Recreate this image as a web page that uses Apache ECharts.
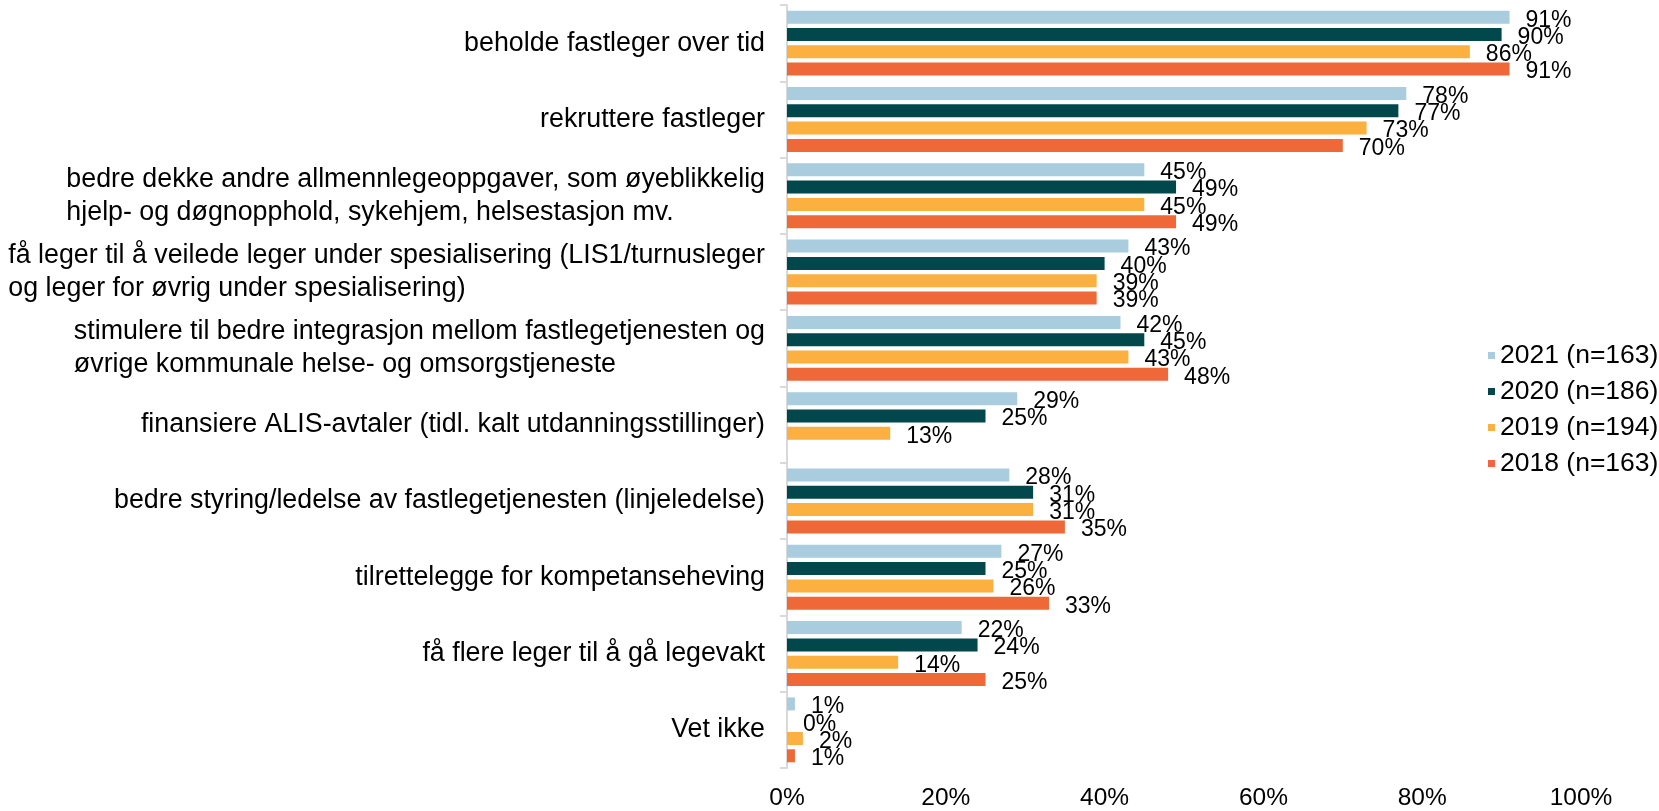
<!DOCTYPE html>
<html><head><meta charset="utf-8">
<script src="https://cdn.jsdelivr.net/npm/echarts@6/dist/echarts.min.js"></script>
<style>html,body{margin:0;padding:0;background:#fff}#c{width:1659px;height:811px}</style>
</head><body><div id="c"></div>
<script>
const categories = [
  'beholde fastleger over tid',
  'rekruttere fastleger',
  'bedre dekke andre allmennlegeoppgaver, som øyeblikkelig\nhjelp- og døgnopphold, sykehjem, helsestasjon mv.',
  'få leger til å veilede leger under spesialisering (LIS1/turnusleger\nog leger for øvrig under spesialisering)',
  'stimulere til bedre integrasjon mellom fastlegetjenesten og\nøvrige kommunale helse- og omsorgstjeneste',
  'finansiere ALIS-avtaler (tidl. kalt utdanningsstillinger)',
  'bedre styring/ledelse av fastlegetjenesten (linjeledelse)',
  'tilrettelegge for kompetanseheving',
  'få flere leger til å gå legevakt',
  'Vet ikke'
];
const seriesNames = ['2021 (n=163)', '2020 (n=186)', '2019 (n=194)', '2018 (n=163)'];
const v2021 = [91, 78, 45, 43, 42, 29, 28, 27, 22, 1];
const v2020 = [90, 77, 49, 40, 45, 25, 31, 25, 24, 0];
const v2019 = [86, 73, 45, 39, 43, 13, 31, 26, 14, 2];
const v2018 = [91, 70, 49, 39, 48, null, 35, 33, 25, 1];
const xTicks = [0, 20, 40, 60, 80, 100];

const colors = ['#A9CCDE', '#02474B', '#FBB040', '#EE6937'];
const FONT = '"Liberation Sans", Arial, sans-serif';
const allValues = [v2021, v2020, v2019, v2018];

const chart = echarts.init(document.getElementById('c'), null, {renderer: 'canvas'});
chart.setOption({
  animation: false,
  backgroundColor: '#ffffff',
  textStyle: {fontFamily: FONT},
  grid: {left: 787, right: 78, top: 5, bottom: 42, containLabel: false},
  legend: {
    orient: 'vertical',
    left: 1483,
    top: 337,
    itemWidth: 7,
    itemHeight: 7,
    itemGap: 9,
    icon: 'rect',
    data: seriesNames,
    textStyle: {fontFamily: FONT, fontSize: 26.5, color: '#000', lineHeight: 26}
  },
  xAxis: {
    type: 'value',
    min: xTicks[0],
    max: xTicks[xTicks.length - 1],
    interval: xTicks[1] - xTicks[0],
    axisLine: {show: false},
    axisTick: {show: false},
    splitLine: {show: false},
    axisLabel: {
      formatter: v => v + '%',
      fontFamily: FONT, fontSize: 24.5, color: '#000', margin: 18
    }
  },
  yAxis: {
    type: 'category',
    inverse: true,
    data: categories,
    axisLine: {show: true, lineStyle: {color: '#d9d9d9', width: 2}},
    axisTick: {show: true, length: 7, lineStyle: {color: '#d9d9d9', width: 2}},
    axisLabel: {
      margin: 22,
      formatter: v => v.split('\n').map(l => '{a|' + l + '}').join('\n'),
      rich: {a: {fontFamily: FONT, fontSize: 26.8, lineHeight: 33, color: '#000', align: 'left'}}
    }
  },
  series: seriesNames.map((name, i) => ({
    name: name,
    type: 'bar',
    data: allValues[i],
    barWidth: 13,
    barGap: '33%',
    itemStyle: {color: colors[i]},
    label: {
      show: true,
      position: 'right',
      distance: 16,
      offset: [0, 3],
      formatter: p => (p.value == null ? '' : p.value + '%'),
      fontFamily: FONT, fontSize: 23, color: '#000'
    }
  }))
});
</script></body></html>
